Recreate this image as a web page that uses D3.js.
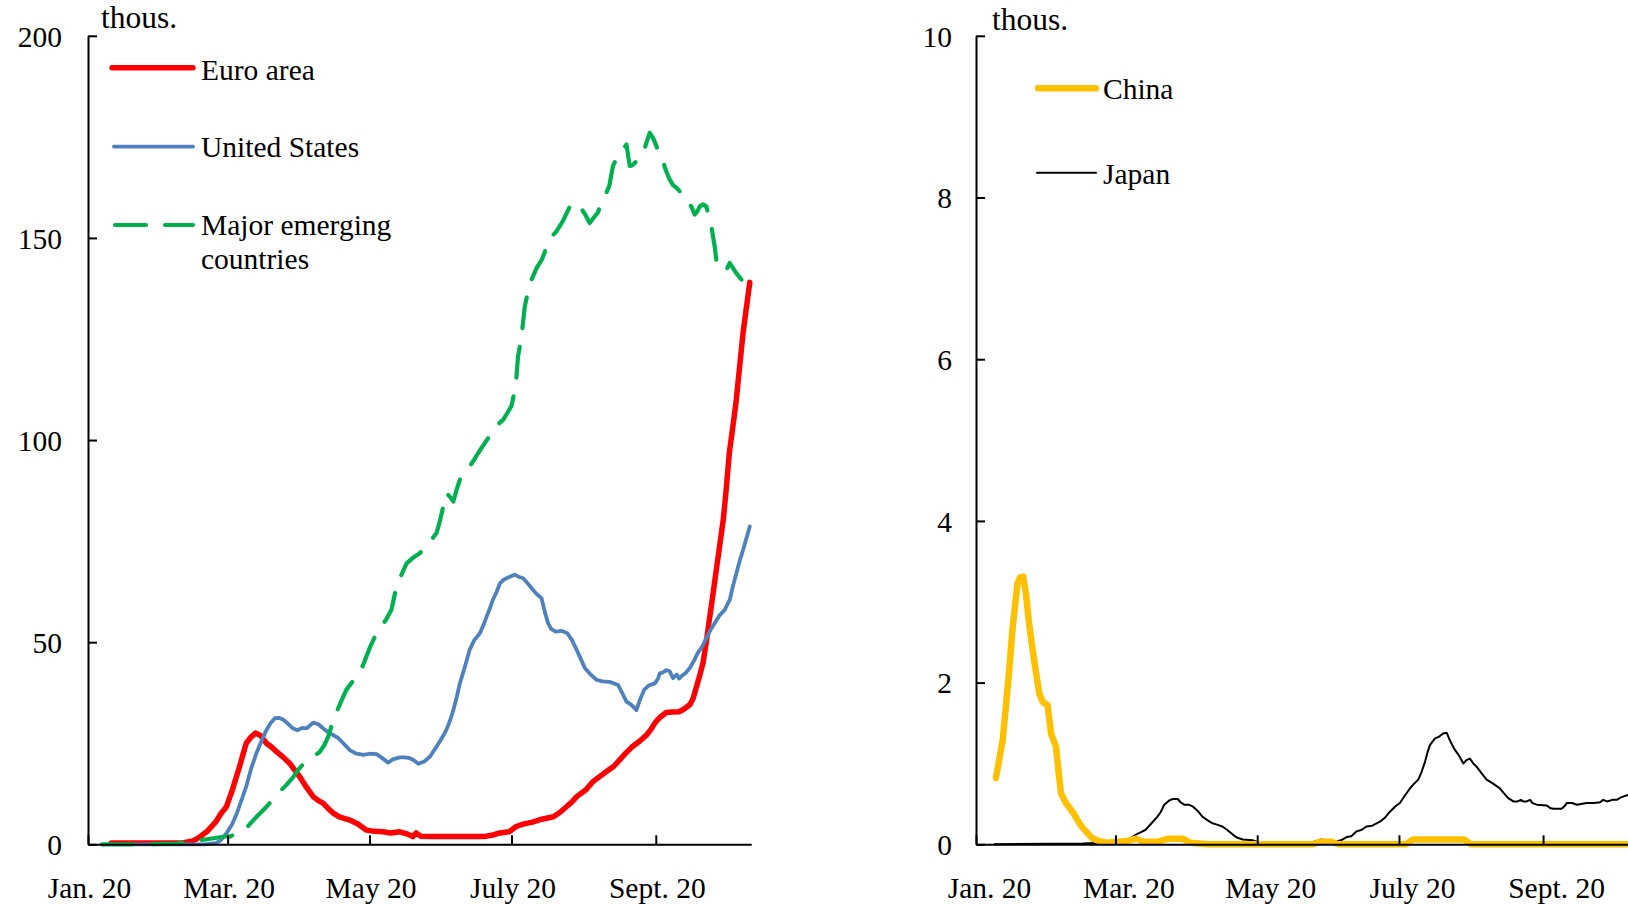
<!DOCTYPE html>
<html>
<head>
<meta charset="utf-8">
<script src="https://cdn.jsdelivr.net/npm/d3@7/dist/d3.min.js"></script>
<style>
  html, body { margin: 0; padding: 0; background: #fff; }
  svg { display: block; }
  text { font-family: "Liberation Serif", "Times New Roman", "DejaVu Serif", serif; fill: #000; }
</style>
</head>
<body>
<svg id="chart" width="1628" height="904"></svg>
<script>
// ---------- DATA (days since 1 Jan 2020, thousands) ----------
const tickMonths = ["2020-01-01", "2020-03-01", "2020-05-01", "2020-07-01", "2020-09-01"];
const tickLabels = ["Jan. 20", "Mar. 20", "May 20", "July 20", "Sept. 20"];
const leftYTicks = [0, 50, 100, 150, 200];
const rightYTicks = [0, 2, 4, 6, 8, 10];

const euroArea = [[10,0.3],[20,0.3],[30,0.3],[40,0.3],[45,0.8],[48,1.8],[51,3.1],[55,5.6],[57,7.5],[59.5,9.3],[62,13.4],[65,19],[68,25],[70,26.5],[72,27.5],[74,27],[76.7,25],[79,24],[81,22.9],[84,21.5],[86.7,20],[89,18.2],[91,16.7],[94,14],[96.8,11.8],[99,10.8],[101,10.2],[103,9],[105.4,7.7],[108,6.8],[112.5,6],[116,5],[119.7,3.5],[123,3.2],[126.8,3.1],[130,2.8],[134,3.1],[137,2.6],[139.6,1.9],[141,2.8],[143,2.0],[148,1.9],[155,1.9],[162,1.9],[170,1.9],[174,2.3],[177,2.8],[181,3.1],[184,4.4],[187,5],[191,5.5],[195,6.2],[200,6.8],[203,8],[205.6,9.3],[208,10.5],[210,11.8],[214,13.5],[217,15.5],[220,16.8],[222.8,18],[226,19.3],[228.5,20.9],[231,22.5],[234,24.2],[237,25.5],[240,27],[242,28.5],[244,30.3],[246,31.5],[248.5,32.6],[251,32.7],[254,32.8],[256,33.4],[258.6,34.5],[260,36],[261.5,39],[263,42],[264.3,44.9],[265.7,50],[267,55.5],[268.5,61.5],[270,67.9],[271.5,74],[273,80.3],[274.3,88],[275.6,96.8],[277.5,105],[278.6,110],[280,118],[281.5,126.5],[283,133],[284.4,139]];

const unitedStates = [[20,0],[40,0],[50,0],[55,0.3],[57,1],[59.6,2.8],[62,5],[64,7.7],[66,11],[68,14.3],[70,18.5],[72.4,22.6],[74.5,25.5],[76.7,28.3],[78.5,30],[80.3,31.2],[82,31.3],[84,30.8],[86,29.8],[88,28.7],[90,28.2],[92,28.8],[94,28.7],[96.8,30.1],[99,29.7],[101,28.7],[103,27.8],[105.4,27],[107.5,26.3],[109.7,25],[112.5,23.3],[115,22.5],[118.3,22.1],[121,22.4],[124,22.3],[126,21.5],[129,20.2],[131,21],[134,21.5],[136,21.5],[138.3,21.3],[140,20.8],[142,19.9],[144.5,20.5],[147,21.7],[149.8,24.2],[152,26.2],[154,28.3],[155.5,30.5],[157,33.2],[158.5,36.5],[159.8,39.8],[162,44],[164,48.1],[166,50.5],[168.4,52.2],[170,54.3],[171.3,56.3],[172.8,58.5],[174,60.5],[175.5,62.3],[177,64.5],[178.4,65.4],[181,66.1],[183.4,66.7],[185,66.2],[187,65.8],[189,64.5],[191.3,62.9],[193,61.8],[194.9,60.9],[196.3,57.5],[197.7,54.7],[199,53.3],[201,52.6],[203.5,52.8],[206,52.2],[208,50.5],[210,48.1],[211.8,45.8],[213.5,43.6],[216,42],[218.5,40.7],[221,40.3],[224,40.2],[226,39.8],[227.8,39.4],[229.5,37.5],[231.4,35.3],[233.5,34.5],[235.7,33.2],[237,35.5],[239,38.2],[241,39.3],[243.6,39.8],[245,41],[245.7,42.3],[247,42.5],[248.5,43.1],[250,42.8],[251.4,41.1],[253,42],[254,41],[255.7,41.9],[257,42.5],[258.6,43.6],[260.5,45.5],[262,47.3],[264,49],[265.7,51],[267.5,53],[269.3,54.7],[271.5,56.7],[273.6,58],[275.8,60.5],[277,63.5],[278.6,67],[280,70],[281.5,72.8],[283,75.8],[284.4,78.6]];

const majorEmerging = [[6,0],[15,0],[25,0],[38,0.2],[44,0.6],[48,1],[54,1.5],[59.6,2],[61,1.9],[63,2.5],[65,3.2],[68,4],[70,5.3],[72.4,6.8],[74.5,8],[76.7,9.3],[79,10.8],[81,12.2],[83,13.4],[85.3,14.7],[88,16.5],[90.3,18.4],[93,20.2],[95.4,21.3],[97.5,22],[99.7,22.9],[101.5,24.5],[103.2,26.6],[104.5,29],[106,31.6],[108.5,35],[111,38.2],[114,40.5],[116.8,42.3],[119,45.5],[121,48.5],[123,51],[125.4,53.5],[128,55.5],[130.4,58],[131.5,61],[132.6,63.8],[134.8,66.8],[136.9,69.5],[139.5,70.8],[142.6,72],[145,73.8],[147,74.9],[149.8,77],[151,79.5],[152,81.9],[154,86.9],[155.5,86],[157,84.8],[158.3,87.5],[159.8,90.2],[162,91.8],[164,93.5],[166,95.2],[167.7,96.8],[170,98.8],[172,100.5],[174,102.5],[176,103.8],[178.4,105],[180,106.5],[182,108.5],[183.8,113.3],[184.8,120.7],[186.3,125.6],[187.7,133],[189,136.5],[190.5,139.5],[192.8,142.6],[195,144.6],[197.8,148.7],[199.5,150.5],[201.3,151.6],[204,154.1],[206,156.5],[207.8,158.6],[209.5,158.3],[211.3,157.8],[213.5,156],[215.6,153.7],[217.3,155],[219,156.2],[221.3,159.5],[223,161.5],[224,162.8],[225.6,167.8],[227,169.5],[228.5,170.6],[230,172],[231.4,173.1],[232.8,167.8],[234,168],[235,168.6],[237,169.4],[238,170.5],[239.3,172.3],[240.5,174.5],[241.4,176],[243,174.5],[244.3,172.7],[245.5,170.5],[247,169],[248.5,166.5],[250,164.4],[251.5,163],[252.9,162.4],[254.3,161.5],[255.7,161.1],[257,160],[258,159],[259.5,157.5],[260.7,155.8],[261.8,156.5],[262.9,157.8],[264.3,158.3],[265.7,157.8],[267,155],[268,152.4],[269.3,147.9],[270,144.6],[271.8,142.8],[273.6,141.7],[274.7,142.5],[275.8,143.8],[277.2,142.5],[278.6,141.3],[280.8,139.7]];

const china = [[8.6,0.82],[10,1.05],[11.5,1.29],[13,1.75],[14.3,2.16],[15.8,2.69],[17,3.0],[17.9,3.23],[19,3.3],[20.3,3.31],[21.5,3.1],[23,2.69],[25,2.28],[27.2,1.87],[28.7,1.76],[30.8,1.72],[32.3,1.37],[34.4,1.21],[35.5,0.9],[36.6,0.63],[38.7,0.51],[40,0.46],[41.6,0.40],[44.5,0.26],[46,0.2],[47.3,0.16],[50.2,0.07],[53,0.04],[56,0.02],[60,0.03],[65,0.04],[68.8,0.07],[72,0.03],[78,0.03],[83,0.07],[89,0.07],[92,0.02],[100,0],[145,0],[148,0.03],[153,0.03],[156,0],[185,0],[188,0.06],[210,0.06],[213,0],[284,0]];

const japan = [[8,0],[46,0.01],[64.5,0.03],[66.5,0.07],[68.8,0.12],[71,0.15],[73,0.18],[75.5,0.26],[78,0.34],[79.5,0.4],[81,0.49],[83,0.54],[84.6,0.56],[86.8,0.56],[88,0.52],[89.6,0.49],[91.5,0.49],[93.2,0.47],[95.5,0.41],[97.5,0.34],[99.5,0.3],[101.8,0.26],[104,0.24],[106,0.22],[108,0.18],[110.5,0.12],[112.5,0.08],[114.8,0.06],[119,0.05],[122,0.02],[139.4,0.02],[145,0.03],[148.7,0.06],[151,0.04],[153.7,0.03],[157,0.05],[159.5,0.09],[161.5,0.1],[163.8,0.16],[166,0.18],[168,0.22],[170.5,0.23],[173.8,0.28],[176,0.33],[178,0.40],[180.5,0.47],[182.4,0.51],[184.5,0.6],[186.7,0.69],[188.5,0.75],[190.3,0.80],[191.8,0.9],[193.2,1.02],[194.3,1.14],[195.4,1.23],[197.5,1.31],[199.2,1.33],[201,1.37],[202.5,1.38],[204,1.28],[206,1.17],[207.8,1.1],[209.7,1.0],[211,1.04],[212.5,1.06],[214,1.0],[215.4,0.96],[217.5,0.88],[219.7,0.80],[222.5,0.75],[225.5,0.69],[227.2,0.63],[229,0.57],[231.2,0.53],[233,0.53],[234.5,0.55],[235.5,0.53],[237,0.53],[238.4,0.55],[239.5,0.51],[241.3,0.49],[245.6,0.48],[247,0.45],[248.4,0.44],[252,0.44],[253.2,0.47],[254.2,0.51],[256.5,0.51],[258.5,0.49],[262.8,0.51],[266,0.51],[268.5,0.52],[269.9,0.55],[271.5,0.53],[273.8,0.55],[275.7,0.55],[277.5,0.58],[280.5,0.61],[284,0.66]];

// ---------- RENDER ----------
const base = Date.UTC(2020, 0, 1);
const toDate = d => new Date(base + d * 864e5);
const startDate = toDate(0), endDate = toDate(285);
const tickDates = tickMonths.map(s => new Date(s + "T00:00:00Z"));

const svg = d3.select("#chart");
const FS = 29.5;
const Y0 = 844.3, YTOP = 35.8;

function panel(cfg) {
  const g = svg.append("g");
  const x = d3.scaleUtc().domain([startDate, endDate]).range([cfg.x0, cfg.x0 + 285 * cfg.pxPerDay]);
  const y = d3.scaleLinear().domain([0, cfg.yMax]).range([Y0, YTOP]);

  // series
  const line = d3.line().x(d => x(toDate(d[0]))).y(d => y(d[1]));
  cfg.series.forEach(s => {
    g.append("path").datum(s.data)
      .attr("d", line)
      .attr("fill", "none")
      .attr("stroke", s.color)
      .attr("stroke-width", s.width)
      .attr("stroke-linecap", "round")
      .attr("stroke-linejoin", "round")
      .attr("stroke-dasharray", s.dash || null);
  });

  // x axis
  const xa = g.append("g").attr("transform", `translate(0,${Y0})`)
    .call(d3.axisBottom(x).tickValues(tickDates).tickFormat((d, i) => tickLabels[i]).tickSize(-9).tickSizeOuter(0));
  xa.selectAll("text").attr("y", 53.5).attr("dy", 0).attr("dx", cfg.labelDx)
    .style("font-size", FS + "px").attr("font-family", null);
  // y axis
  const ya = g.append("g").attr("transform", `translate(${cfg.x0},0)`)
    .call(d3.axisLeft(y).tickValues(cfg.yTicks).tickSize(-9).tickSizeOuter(0).tickPadding(cfg.yPad));
  ya.selectAll("text").attr("dy", "0.35em").style("font-size", FS + "px").attr("font-family", null);
  [xa, ya].forEach(a => {
    a.selectAll("path, line").attr("stroke", "#000").attr("stroke-width", 2);
    a.attr("font-family", null).attr("font-size", null);
  });

  // unit label
  g.append("text").attr("x", cfg.unitX).attr("y", cfg.unitY).style("font-size", "31.5px").text("thous.");

  // legend
  cfg.legend.forEach(l => {
    g.append("line").attr("x1", l.x1).attr("x2", l.x2).attr("y1", l.y).attr("y2", l.y)
      .attr("stroke", l.color).attr("stroke-width", l.width)
      .attr("stroke-linecap", "round").attr("stroke-dasharray", l.dash || null);
    const t = g.append("text").attr("x", l.tx).attr("y", l.ty).style("font-size", FS + "px");
    l.lines.forEach((s, i) => t.append("tspan").attr("x", l.tx).attr("dy", i === 0 ? 0 : 34).text(s));
  });
}

const GREEN_DASH = "31,19";

panel({
  x0: 88, pxPerDay: 2.327, yMax: 200, yTicks: leftYTicks, yPad: 26, labelDx: 1,
  unitX: 101, unitY: 28,
  series: [
    { data: euroArea, color: "#FF0000", width: 5.5 },
    { data: unitedStates, color: "#4F81BD", width: 3.8 },
    { data: majorEmerging, color: "#00B050", width: 4.2, dash: GREEN_DASH }
  ],
  legend: [
    { x1: 112, x2: 193, y: 67.7, color: "#FF0000", width: 5.5, tx: 201, ty: 80, lines: ["Euro area"] },
    { x1: 114, x2: 193, y: 146.7, color: "#4F81BD", width: 3.8, tx: 201, ty: 157, lines: ["United States"] },
    { x1: 115, x2: 193, y: 225, color: "#00B050", width: 4.2, dash: GREEN_DASH, tx: 201, ty: 235, lines: ["Major emerging", "countries"] }
  ]
});

panel({
  x0: 976, pxPerDay: 2.324, yMax: 10, yTicks: rightYTicks, yPad: 24, labelDx: 13,
  unitX: 992, unitY: 30,
  series: [
    { data: japan, color: "#000000", width: 2 },
    { data: china, color: "#FFC000", width: 6.5 }
  ],
  legend: [
    { x1: 1038, x2: 1096, y: 88.3, color: "#FFC000", width: 6.5, tx: 1103, ty: 99, lines: ["China"] },
    { x1: 1037, x2: 1096, y: 172.7, color: "#000000", width: 2, tx: 1103, ty: 184, lines: ["Japan"] }
  ]
});
</script>
</body>
</html>
